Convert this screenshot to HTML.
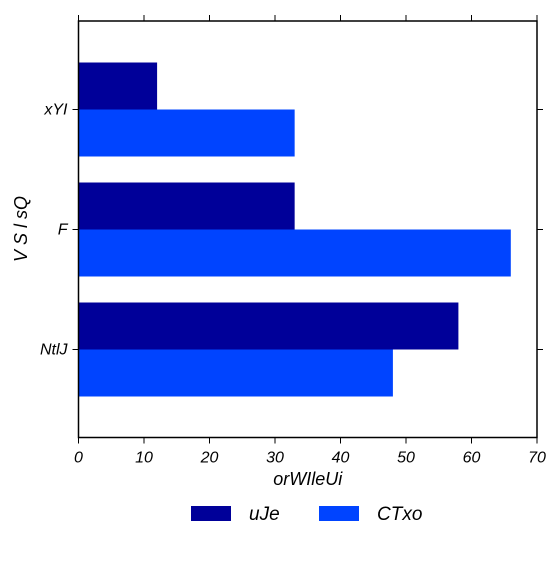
<!DOCTYPE html>
<html><head><meta charset="utf-8"><style>
html,body{margin:0;padding:0;background:#fff;}
svg text{font-family:"Liberation Sans",sans-serif;font-style:italic;fill:#000;}
</style></head><body>
<svg id="chart" width="560" height="560" xmlns="http://www.w3.org/2000/svg">
<g id="marks"></g>
<g id="axes"></g>
</svg>
<script>
const categories = ["xYI", "F", "NtlJ"];
const seriesNames = ["uJe", "CTxo"];
const uJeValues = [12, 33, 58];
const CTxoValues = [33, 66, 48];
const xTicks = [0, 10, 20, 30, 40, 50, 60, 70];
const colors = ["#000099", "#0044ff"];

const L = 78.5, R = 537, T = 21, B = 437.5;
const xMin = 0, xMax = 70;
function xs(v){ return L + (v - xMin) / (xMax - xMin) * (R - L); }
function yc(i){ return 109.5 + i * 120; }
const barH = 47;
const NS = "http://www.w3.org/2000/svg";
function mk(tag, attrs, parent){
  const e = document.createElementNS(NS, tag);
  for (const k in attrs) e.setAttribute(k, attrs[k]);
  parent.appendChild(e); return e;
}
const marks = document.getElementById('marks');
const axes = document.getElementById('axes');
const series = [uJeValues, CTxoValues];
series.forEach((vals, s) => {
  vals.forEach((v, i) => {
    const y = yc(i) - barH + s * barH;
    const r = mk('rect', {x: xs(0), y: y, width: xs(v) - xs(0), height: barH, fill: colors[s]}, marks);
    
    
  });
});
const frame = mk('rect', {x: L, y: T, width: R - L, height: B - T, fill: 'none', stroke: '#000', 'stroke-width': 1.5}, axes);


xTicks.forEach(t => {
  const x = xs(t);
  mk('line', {x1: x, x2: x, y1: B, y2: B + 6, stroke: '#000'}, axes);
  mk('line', {x1: x, x2: x, y1: T, y2: T - 6, stroke: '#000'}, axes);
  const tx = mk('text', {x: x, y: B + 25, 'text-anchor': 'middle', 'font-size': 16}, axes);
  tx.textContent = t;
  
  
});
categories.forEach((c, i) => {
  const y = yc(i);
  mk('line', {x1: L, x2: L - 6, y1: y, y2: y, stroke: '#000'}, axes);
  mk('line', {x1: R, x2: R + 6, y1: y, y2: y, stroke: '#000'}, axes);
  const tx = mk('text', {x: L - 11, y: y + 5, 'text-anchor': 'end', 'font-size': 16}, axes);
  tx.textContent = c;
  
  
});
const xt = mk('text', {x: (L + R) / 2, y: 485, 'text-anchor': 'middle', 'font-size': 18}, axes);
xt.textContent = 'orWIleUi';


const yt = mk('text', {x: 0, y: 0, 'text-anchor': 'middle', 'font-size': 18, transform: 'translate(27,229) rotate(-90)'}, axes);
yt.textContent = 'V  S l sQ';


const lx = [191, 319];
seriesNames.forEach((n, s) => {
  const p = mk('rect', {x: lx[s], y: 506, width: 40, height: 15, fill: colors[s]}, axes);
  
  
  const t = mk('text', {x: lx[s] + 58, y: 520, 'font-size': 19}, axes);
  t.textContent = n;
  
  
});
</script>
</body></html>
